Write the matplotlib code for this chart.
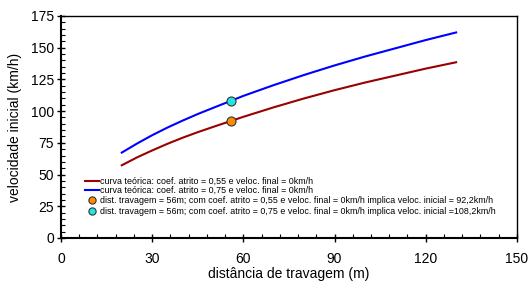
import numpy as np
import matplotlib.pyplot as plt
from matplotlib.ticker import MultipleLocator

plt.rcParams['font.family'] = ['Liberation Sans', 'DejaVu Sans']

# distancia de travagem (m) and velocidade inicial (km/h)
dist = [20, 25, 30, 35, 40, 45, 50, 60, 70, 80, 90, 100, 110, 120, 130]
v_055 = [57.3, 63.5, 69.0, 74.2, 79.0, 83.4, 87.5, 95.5, 103.0, 110.0, 116.5, 122.5, 128.0, 133.5, 138.5]
v_075 = [67.3, 74.4, 81.0, 87.0, 92.5, 97.7, 102.5, 112.0, 120.5, 128.5, 136.0, 143.0, 149.5, 156.0, 162.0]

d_obs = 56
v_obs_055 = 92.2
v_obs_075 = 108.2

fig = plt.figure(figsize=(5.28, 2.85), dpi=100)
ax = fig.add_axes([0.1155, 0.165, 0.8635, 0.779])

l1, = ax.plot(dist, v_055, color='#990000', lw=1.5)
l2, = ax.plot(dist, v_075, color='#0000ff', lw=1.5)
p1, = ax.plot([d_obs], [v_obs_055], 'o', color='#ff8c00', mec='#333333', mew=0.8, ms=6.5)
p2, = ax.plot([d_obs], [v_obs_075], 'o', color='#22e5e5', mec='#333333', mew=0.8, ms=6.5)

ax.set_xlim(0, 150)
ax.set_ylim(0, 175)
ax.xaxis.set_major_locator(MultipleLocator(30))
ax.xaxis.set_minor_locator(MultipleLocator(6))
ax.yaxis.set_major_locator(MultipleLocator(25))
ax.yaxis.set_minor_locator(MultipleLocator(5))
ax.tick_params(which='major', direction='inout', length=6, width=1, labelsize=10)
ax.tick_params(which='minor', direction='in', length=3, width=0.8)
ax.tick_params(axis='x', pad=7)
ax.tick_params(axis='y', pad=2)
for s in ax.spines.values():
    s.set_linewidth(1)
ax.spines['left'].set_linewidth(1.5)
ax.spines['bottom'].set_linewidth(1.5)

ax.set_xlabel('distância de travagem (m)', fontsize=10, labelpad=1)
ax.set_ylabel('velocidade inicial (km/h)', fontsize=10, labelpad=6)

leg1 = ax.legend([l1, l2],
                 ['curva teórica: coef. atrito = 0,55 e veloc. final = 0km/h',
                  'curva teórica: coef. atrito = 0,75 e veloc. final = 0km/h'],
                 loc='upper left', bbox_to_anchor=(0.052, 0.275), frameon=False,
                 fontsize=6.4, handlelength=1.6, handletextpad=0.1,
                 labelspacing=0.0, borderpad=0, borderaxespad=0)
ax.add_artist(leg1)
ax.legend([p1, p2],
          ['dist. travagem = 56m; com coef. atrito = 0,55 e veloc. final = 0km/h implica veloc. inicial = 92,2km/h',
           'dist. travagem = 56m; com coef. atrito = 0,75 e veloc. final = 0km/h implica veloc. inicial =108,2km/h'],
          loc='upper left', bbox_to_anchor=(0.052, 0.19), frameon=False,
          fontsize=6.4, handlelength=1.6, handletextpad=0.1,
          labelspacing=0.3, borderpad=0, borderaxespad=0, markerscale=0.8)

fig.savefig('out.png', dpi=100)
